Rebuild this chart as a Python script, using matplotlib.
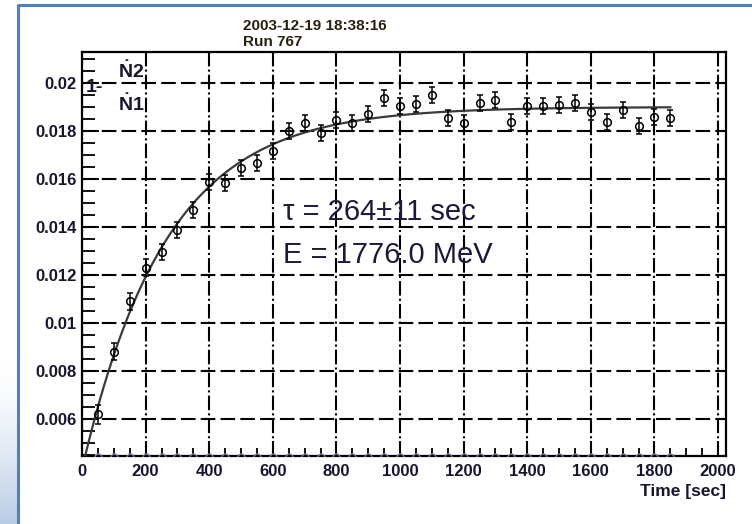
import numpy as np
import matplotlib.pyplot as plt
from matplotlib.ticker import MultipleLocator, FixedLocator

plt.rcParams['font.family'] = 'Liberation Sans'
plt.rcParams['mathtext.fontset'] = 'custom'
plt.rcParams['mathtext.rm'] = 'Liberation Sans:bold'
plt.rcParams['mathtext.it'] = 'Liberation Sans:bold'
plt.rcParams['mathtext.bf'] = 'Liberation Sans:bold'
plt.rcParams['mathtext.default'] = 'bf'

# measured ratio 1 - dN2/dN1 per time bin
time_s = [50, 100, 150, 200, 250, 300, 350, 400, 450, 500, 550, 600, 650, 700,
          750, 800, 850, 900, 950, 1000, 1050, 1100, 1150, 1200, 1250, 1300,
          1350, 1400, 1450, 1500, 1550, 1600, 1650, 1700, 1750, 1800, 1850]
ratio = [0.0062, 0.0088, 0.0109, 0.0123, 0.01296, 0.01388, 0.01471, 0.01588,
         0.01583, 0.01646, 0.01667, 0.01717, 0.01800, 0.01833, 0.01792,
         0.01846, 0.01833, 0.01871, 0.01938, 0.01904, 0.01913, 0.01950,
         0.01854, 0.01833, 0.01917, 0.01929, 0.01838, 0.01904, 0.01904,
         0.01908, 0.01917, 0.01880, 0.01838, 0.01888, 0.01821, 0.01858,
         0.01854]
ratio_err = [0.00040, 0.00036, 0.00036, 0.00035, 0.00034, 0.00034, 0.00034,
             0.00034, 0.00034, 0.00033, 0.00033, 0.00033, 0.00033, 0.00033,
             0.00033, 0.00033, 0.00033, 0.00033, 0.00033, 0.00033, 0.00033,
             0.00033, 0.00033, 0.00033, 0.00033, 0.00033, 0.00033, 0.00033,
             0.00033, 0.00033, 0.00033, 0.00033, 0.00033, 0.00033, 0.00033,
             0.00033, 0.00033]
# second graph, lies just under the drawn range
low_ratio = [0.0044] * len(time_s)

# fit y = a - b*exp(-t/tau)
tau = 264.0
fit_a = 0.0190
fit_b = 0.0151
fit_tmax = 1850

W, H = 752, 524
fig = plt.figure(figsize=(W / 100, H / 100), dpi=100)

def px(x, y):
    return x / W, 1 - y / H

# slide frame and shading on the left
bg = fig.add_axes([0, 0, 1, 1], zorder=-5)
bg.set_xlim(0, W)
bg.set_ylim(H, 0)
bg.axis('off')
grad = np.linspace(0, 1, 200)[:, None] ** 1.5
bg.imshow(grad, extent=[0, 17, H, 360], aspect='auto',
          cmap=plt.matplotlib.colors.LinearSegmentedColormap.from_list(
              'sl', ['#ffffff', '#b9cce6']), vmin=0, vmax=1)
bg.plot([18, 18, W], [H, 5, 5], color='#4f81bd', lw=2.2, solid_capstyle='butt')

ax = fig.add_axes([82 / W, 1 - 456 / H, (726 - 82) / W, (456 - 52) / H])
ax.set_xlim(0, 2025)
ax.set_ylim(0.004458, 0.02129)

txtc = '#16162e'
ax.xaxis.set_major_locator(FixedLocator(np.arange(0, 2001, 200)))
ax.xaxis.set_minor_locator(MultipleLocator(50))
ax.yaxis.set_major_locator(FixedLocator(np.arange(0.006, 0.0201, 0.002)))
ax.yaxis.set_minor_locator(MultipleLocator(0.0005))
ax.set_xticklabels(['0', '200', '400', '600', '800', '1000', '1200', '1400',
                    '1600', '1800', '2000'])
ax.set_yticklabels(['0.006', '0.008', '0.01', '0.012', '0.014', '0.016',
                    '0.018', '0.02'])
ax.tick_params(axis='both', which='both', direction='in', colors='black',
               labelcolor=txtc, labelsize=12, width=1.3)
ax.tick_params(axis='x', which='major', length=11, pad=6)
ax.tick_params(axis='x', which='minor', length=6)
ax.tick_params(axis='y', which='major', length=12, pad=4)
ax.tick_params(axis='y', which='minor', length=9)
for lab in ax.get_xticklabels() + ax.get_yticklabels():
    lab.set_fontweight('bold')
for s in ax.spines.values():
    s.set_linewidth(1.6)

# dashed grid
ax.grid(True, axis='y', color='black', lw=1.5, linestyle=(0, (7, 2.5)))
ax.grid(True, axis='x', color='black', lw=1.5, linestyle=(0, (7, 1.5, 1, 1.5)))

tt = np.linspace(0, fit_tmax, 400)
ax.plot(tt, fit_a - fit_b * np.exp(-tt / tau), color='#3a3a3a', lw=1.6, zorder=3)

ax.errorbar(time_s, ratio, yerr=ratio_err, fmt='o', ms=5.5, mfc='none',
            mec='black', mew=1.1, ecolor='black', elinewidth=1.1,
            capsize=2.5, capthick=1.1, zorder=4)
ax.plot(time_s, low_ratio, 'o', ms=5, mfc='none', mec='#7a7f99', mew=1.0,
        zorder=4)

ax.set_xlabel('Time [sec]', fontsize=12.5, fontweight='bold', color=txtc)
ax.xaxis.set_label_coords(1.0, -0.07)
ax.xaxis.label.set_horizontalalignment('right')

# header and axis title
fig.text(*px(243, 26), '2003-12-19 18:38:16', fontsize=11,
         fontweight='bold', color='#2a2010', va='center', ha='left')
fig.text(*px(243, 42), 'Run 767', fontsize=11, fontweight='bold',
         color='#2a2010', va='center', ha='left')
fig.text(*px(86, 87), '1-', fontsize=14, fontweight='bold', color=txtc,
         va='center', ha='left')
fig.text(*px(131, 71), r'$\dot{N}2$', fontsize=14, color=txtc,
         va='center', ha='center')
fig.text(*px(131, 104), r'$\dot{N}1$', fontsize=14, color=txtc,
         va='center', ha='center')

# fit result
fig.text(*px(283, 212), '\u03c4 = 264\u00b111 sec', fontsize=21,
         color='#1a1a3a', va='center', ha='left')
fig.text(*px(283, 255), 'E = 1776.0 MeV', fontsize=21,
         color='#1a1a3a', va='center', ha='left')

fig.savefig('out.png', dpi=100)
